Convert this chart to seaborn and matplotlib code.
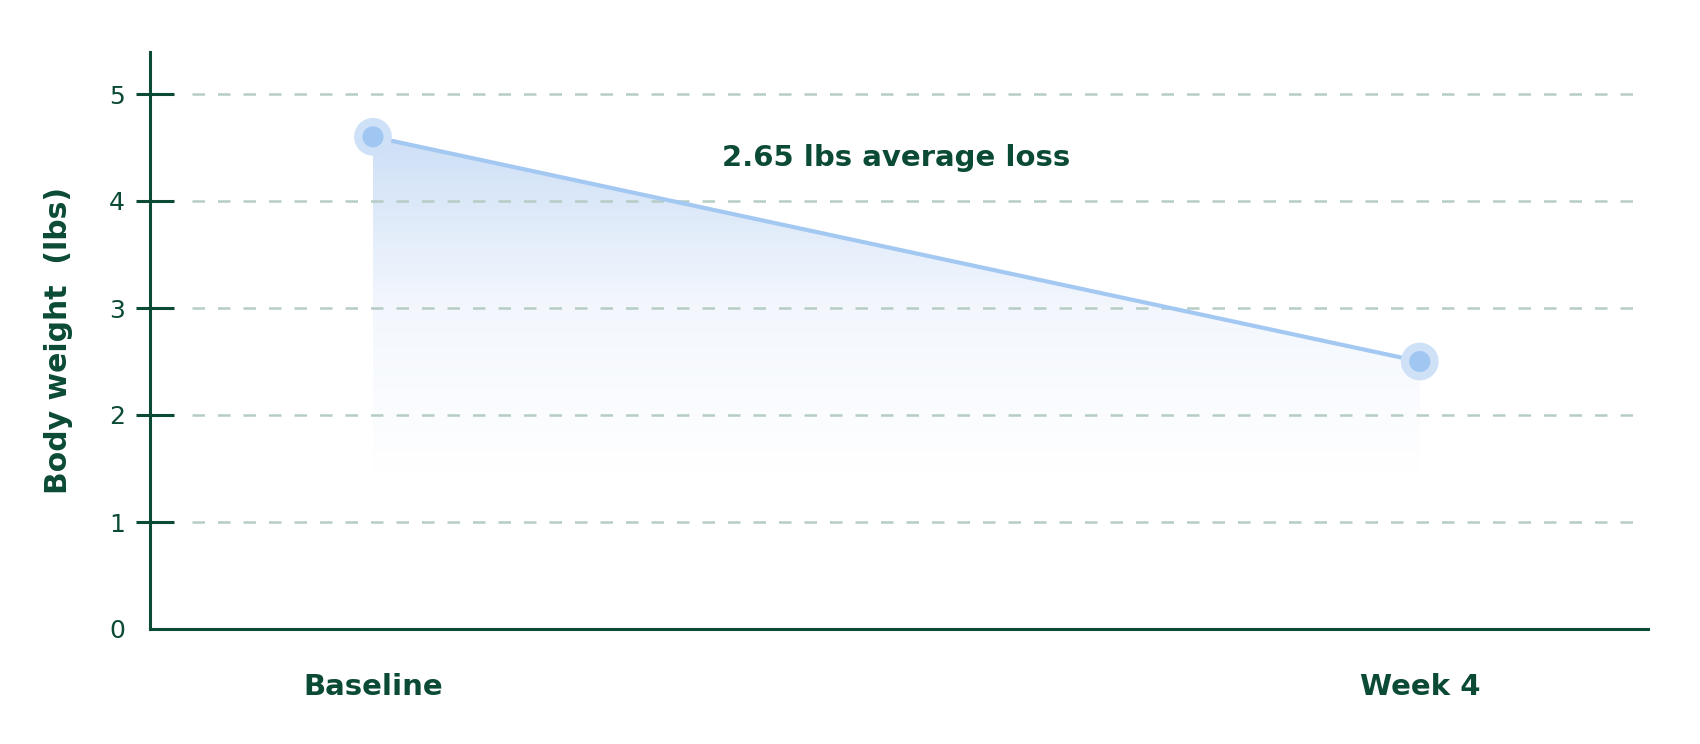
import numpy as np
import matplotlib
matplotlib.use("Agg")
import matplotlib.pyplot as plt
from matplotlib.colors import LinearSegmentedColormap
import seaborn as sns
import pandas as pd

# data
timepoints = ["Baseline", "Week 4"]
weights = [4.6, 2.5]
annotation = "2.65 lbs average loss"
y_ticks = [0, 1, 2, 3, 4, 5]
fill_floor = 1.45

dark_green = "#0b4a35"
grid_col = "#b5cdc4"
line_col = "#a3c8f2"
halo_col = "#cfe1f7"

sns.set_style("white")
plt.rcParams["font.family"] = ["DejaVu Sans"]

df = pd.DataFrame({"timepoint": timepoints, "weight": weights})

fig = plt.figure(figsize=(17, 7.44), dpi=100)
ax = fig.add_axes([150 / 1700, 1 - 629 / 744, 1498 / 1700, 577 / 744])

ax.set_xlim(-0.213, 1.218)
ax.set_ylim(0, 577 / 107)

# gradient fill under the line
xs = np.arange(len(weights))
poly = ax.fill_between(xs, weights, fill_floor, color="none", lw=0)
cmap = LinearSegmentedColormap.from_list("fade", ["#ffffff", "#f3f7fd", "#cddff6"])
grad = np.linspace(0, 1, 256).reshape(-1, 1)
img = ax.imshow(grad, cmap=cmap, aspect="auto", origin="lower",
                extent=[xs[0], xs[-1], fill_floor, max(weights)], zorder=1)
img.set_clip_path(poly.get_paths()[0], transform=ax.transData)

# dashed guide lines
for t in y_ticks[1:]:
    ax.plot([0.028, 0.998], [t, t], transform=ax.get_yaxis_transform(),
            color=grid_col, lw=1.8, ls=(0, (5, 5.2)), zorder=2)

sns.lineplot(data=df, x="timepoint", y="weight", color=line_col, lw=3,
             ax=ax, zorder=3, sort=False)
sns.scatterplot(data=df, x="timepoint", y="weight", color=halo_col, s=740,
                edgecolor="none", ax=ax, zorder=4)
sns.scatterplot(data=df, x="timepoint", y="weight", color="#a0c6f2", s=230,
                edgecolor="none", ax=ax, zorder=5)

ax.text(0.5, 4.4, annotation, ha="center", va="center", fontsize=21,
        fontweight="bold", color=dark_green)

# axes styling
for side in ["top", "right"]:
    ax.spines[side].set_visible(False)
for side in ["left", "bottom"]:
    ax.spines[side].set_color(dark_green)
    ax.spines[side].set_linewidth(2.2)

# ticks stick out a little on the left and further into the plot
ax.set_yticks(y_ticks)
ax.set_yticklabels([str(t) for t in y_ticks])
ax.set_yticks(y_ticks[1:], minor=True)
ax.yaxis.remove_overlapping_locs = False
ax.tick_params(axis="y", which="major", left=True, direction="in", length=17.5,
               width=2.2, color=dark_green, labelcolor=dark_green,
               labelsize=18, pad=18)
ax.tick_params(axis="y", which="minor", left=True, direction="out", length=10,
               width=2.2, color=dark_green)
ax.yaxis.get_major_ticks()[0].tick1line.set_visible(False)
ax.tick_params(axis="x", bottom=False, length=0, pad=32, labelsize=21,
               labelcolor=dark_green)
for lab in ax.get_xticklabels():
    lab.set_fontweight("bold")

ax.set_xlabel("")
ax.set_ylabel("Body weight  (lbs)", fontsize=21.5, fontweight="bold",
              color=dark_green, labelpad=26)

fig.savefig("out.png", dpi=100)
